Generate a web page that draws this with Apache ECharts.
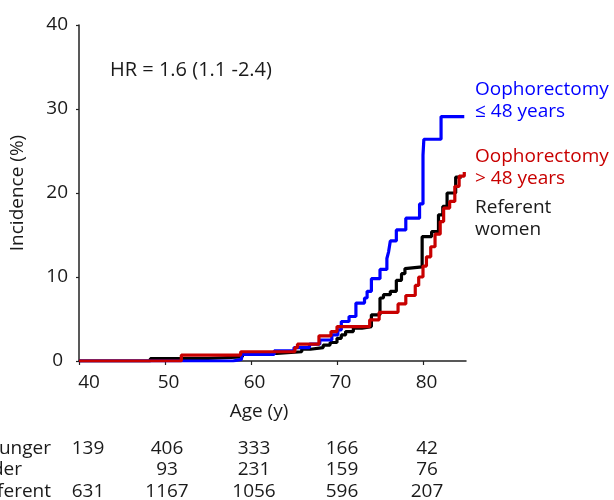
<!DOCTYPE html>
<html>
<head>
<meta charset="utf-8">
<script src="https://cdn.jsdelivr.net/npm/echarts@6/dist/echarts.min.js"></script>
<style>html,body{margin:0;padding:0;background:#fff}#c{width:614px;height:500px}</style>
</head>
<body>
<div id="c"></div>
<script>
// ---- data ----
const xTicks = [40, 50, 60, 70, 80];
const yTicks = [0, 10, 20, 30, 40];

const refAge = [40, 48.3, 55.0, 59.0, 63.0, 65.9, 66.9, 68.4, 69.2, 70.0, 70.5, 71.0, 71.9, 72.9, 74.0, 75.0, 75.4, 76.2, 76.9, 77.5, 77.9, 78.1, 79.9, 81.0, 81.8, 82.3, 82.8, 83.8, 84.5];
const refPct = [0, 0.3, 0.5, 0.9, 1.1, 1.4, 1.6, 1.9, 2.2, 2.7, 3.1, 3.5, 3.9, 4.1, 5.5, 7.5, 7.9, 8.3, 9.6, 10.4, 11.0, 11.2, 14.8, 15.4, 17.4, 18.4, 20.0, 21.9, 21.9];

const youngAge = [40, 57.9, 58.9, 62.7, 65.0, 66.8, 68.0, 69.4, 70.1, 70.5, 71.4, 72.2, 73.2, 73.5, 74.0, 75.0, 75.8, 76.0, 76.2, 76.9, 78.0, 79.6, 80.0, 80.1, 82.1, 84.8];
const youngPct = [0, 0.2, 0.8, 1.2, 1.6, 2.0, 2.5, 3.1, 3.7, 4.7, 5.3, 6.9, 7.5, 8.3, 9.8, 10.9, 12.2, 13.0, 14.3, 15.6, 17.0, 18.7, 24.5, 26.4, 29.1, 29.1];

const oldAge = [40, 51.9, 58.8, 65.1, 65.4, 67.9, 69.3, 70.0, 73.8, 74.9, 77.1, 78.0, 79.1, 79.5, 80.0, 80.4, 80.9, 81.4, 82.0, 82.4, 83.1, 83.7, 84.2, 84.8];
const oldPct = [0, 0.7, 1.1, 1.6, 2.0, 3.0, 3.5, 4.1, 4.9, 5.8, 6.8, 7.8, 9.0, 10.0, 11.3, 12.4, 13.6, 15.1, 16.6, 18.2, 19.0, 20.8, 22.0, 22.5];

const rowLabels = ['Younger', 'Older', 'Referent'];
const rowYounger = ['139', '406', '333', '166', '42'];
const rowOlder = ['', '93', '231', '159', '76'];
const rowReferent = ['631', '1167', '1056', '596', '207'];

const hrText = 'HR = 1.6 (1.1 -2.4)';
const labelYoung = 'Oophorectomy\n≤ 48 years';
const labelOld = 'Oophorectomy\n> 48 years';
const labelRef = 'Referent\nwomen';
const xName = 'Age (y)';
const yName = 'Incidence (%)';

// ---- chart ----
const FF = '"Open Sans", "Noto Sans", sans-serif';
const FS = 19;
const TXT = '#1a1a1a';
const BLUE = '#0000ff', RED = '#c80000', BLACK = '#000000';
const zip = (a, b) => a.map((v, i) => [v, b[i]]);

const chart = echarts.init(document.getElementById('c'), null, {renderer: 'canvas'});

function txt(text, x, y, fill, align, vAlign, extra) {
  return {
    type: 'text', x: x, y: y, silent: true,
    style: Object.assign({text: text, fill: fill, fontSize: FS, fontFamily: FF,
      align: align, verticalAlign: vAlign}, extra || {})
  };
}

const colX = [88, 167, 254, 342, 427];
const rowY = [449, 470, 492];
const labelRight = [51, 22, 51];
const graphics = [];
graphics.push(txt(hrText, 110, 70, TXT, 'left', 'middle', {fontSize: 20}));
graphics.push(txt(xName, 259, 412, TXT, 'center', 'middle'));
graphics.push(txt(labelYoung, 475, 79, BLUE, 'left', 'top', {lineHeight: 22}));
graphics.push(txt(labelOld, 475, 146, RED, 'left', 'top', {lineHeight: 22}));
graphics.push(txt(labelRef, 475, 197, TXT, 'left', 'top', {lineHeight: 22}));
[rowYounger, rowOlder, rowReferent].forEach((row, r) => {
  graphics.push(txt(rowLabels[r], labelRight[r], rowY[r], TXT, 'right', 'middle'));
  row.forEach((v, c) => { if (v) graphics.push(txt(v, colX[c], rowY[r], TXT, 'center', 'middle')); });
});

const lbl = {fontSize: FS, fontFamily: FF, color: TXT};
chart.setOption({
  animation: false,
  backgroundColor: '#fff',
  grid: {left: 79, right: 148, top: 25, bottom: 139, containLabel: false},
  xAxis: {
    type: 'value', min: 40, max: 85,
    splitLine: {show: false},
    axisLine: {show: true, lineStyle: {color: '#222', width: 1.5}},
    axisTick: {show: true, length: 4, customValues: xTicks, lineStyle: {color: '#222', width: 1.2}},
    axisLabel: {
      customValues: xTicks, margin: 12,
      formatter: v => (v === 40 ? '{f|' + v + '}' : '{n|' + v + '}'),
      rich: {f: Object.assign({padding: [0, 0, 0, 20]}, lbl), n: Object.assign({padding: [0, 0, 0, 7]}, lbl)}
    }
  },
  yAxis: {
    type: 'value', min: 0, max: 40, interval: 10,
    name: yName, nameLocation: 'middle', nameGap: 52, nameRotate: 90,
    nameTextStyle: {fontSize: FS, fontFamily: FF, color: TXT},
    splitLine: {show: false},
    axisLine: {show: true, lineStyle: {color: '#222', width: 1.5}},
    axisTick: {show: true, length: 3, lineStyle: {color: '#222', width: 1.2}},
    axisLabel: {
      margin: 11,
      formatter: v => (v === 0 ? '{z|0}' : '{n|' + v + '}'),
      rich: {z: Object.assign({padding: [0, 5, 0, 0]}, lbl), n: lbl}
    }
  },
  series: [
    {type: 'line', step: 'end', showSymbol: false, data: zip(refAge, refPct), lineStyle: {color: BLACK, width: 3.2}, itemStyle: {color: BLACK}, z: 2},
    {type: 'line', step: 'end', showSymbol: false, data: zip(youngAge, youngPct), lineStyle: {color: BLUE, width: 3.2}, itemStyle: {color: BLUE}, z: 3},
    {type: 'line', step: 'end', showSymbol: false, data: zip(oldAge, oldPct), lineStyle: {color: RED, width: 3.2}, itemStyle: {color: RED}, z: 4}
  ],
  graphic: graphics
});
</script>
</body>
</html>
